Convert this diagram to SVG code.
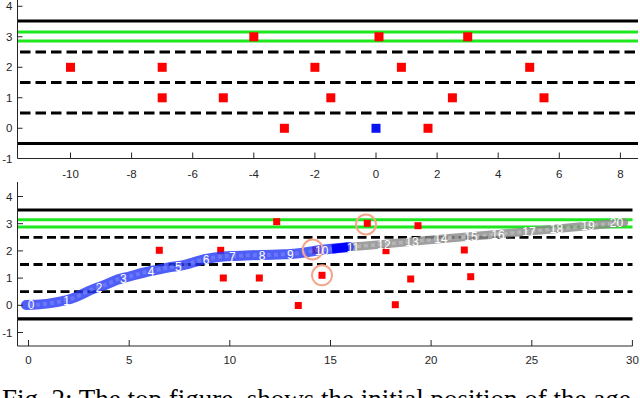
<svg xmlns="http://www.w3.org/2000/svg" width="640" height="398" viewBox="0 0 640 398">
<style>
.tick{font-family:"Liberation Sans",Arial,sans-serif;font-size:11.5px;fill:#262626}
.yl{text-anchor:end}
.xl{text-anchor:middle}
.ax{stroke:#262626;stroke-width:1;fill:none}
.solid{stroke:#000;stroke-width:3.2;fill:none}
.green{stroke:#1ee81e;stroke-width:3;fill:none}
.dashT{stroke:#000;stroke-width:3;fill:none;stroke-dasharray:10.5 5}
.dashB{stroke:#000;stroke-width:2.8;fill:none;stroke-dasharray:9 4.5}
.sq{fill:#ff0000}
.lbl{font-family:"Liberation Sans",Arial,sans-serif;font-size:12px;fill:#ffffff;text-anchor:middle;dominant-baseline:central}
.ring{fill:none;stroke:#f5a68a;stroke-width:2}
.cap{font-family:"Liberation Serif","Times New Roman",serif;font-size:27px;fill:#000}
</style>

<!-- TOP PLOT -->
<g id="top-plot">
  <g id="top-lanes">
    <line class="solid" x1="18" y1="21" x2="638" y2="21"/>
    <line class="green" x1="18" y1="32" x2="638" y2="32"/>
    <line class="green" x1="18" y1="41" x2="638" y2="41"/>
    <line class="dashT" x1="20" y1="52" x2="638" y2="52"/>
    <line class="dashT" x1="20" y1="82.5" x2="638" y2="82.5"/>
    <line class="dashT" x1="20" y1="113" x2="638" y2="113"/>
    <line class="solid" x1="18" y1="143.5" x2="638" y2="143.5"/>
  </g>
  <g id="top-obstacles">
    <rect class="sq" x="249.3" y="32.3" width="9" height="9"/>
    <rect class="sq" x="374.5" y="32.3" width="9" height="9"/>
    <rect class="sq" x="463.2" y="32.3" width="9" height="9"/>
    <rect class="sq" x="66" y="62.8" width="9" height="9"/>
    <rect class="sq" x="157.7" y="62.8" width="9" height="9"/>
    <rect class="sq" x="310.4" y="62.8" width="9" height="9"/>
    <rect class="sq" x="396.9" y="62.8" width="9" height="9"/>
    <rect class="sq" x="525.2" y="62.8" width="9" height="9"/>
    <rect class="sq" x="157.7" y="93.3" width="9" height="9"/>
    <rect class="sq" x="218.8" y="93.3" width="9" height="9"/>
    <rect class="sq" x="326.3" y="93.3" width="9" height="9"/>
    <rect class="sq" x="447.9" y="93.3" width="9" height="9"/>
    <rect class="sq" x="539.5" y="93.3" width="9" height="9"/>
    <rect class="sq" x="279.9" y="123.8" width="9" height="9"/>
    <rect class="sq" x="423.5" y="123.8" width="9" height="9"/>
  </g>
  <g id="top-ego">
    <rect x="371.5" y="123.8" width="9" height="9" fill="#0a14f0"/>
  </g>
  <g id="top-axes">
    <path class="ax" d="M17.5,0 V158.5 H638"/>
    <path class="ax" d="M17.5,6.25 h5 M17.5,36.75 h5 M17.5,67.25 h5 M17.5,97.75 h5 M17.5,128.25 h5 M70.5,158.5 v-6 M131.6,158.5 v-6 M192.7,158.5 v-6 M253.8,158.5 v-6 M314.9,158.5 v-6 M376,158.5 v-6 M437.1,158.5 v-6 M498.2,158.5 v-6 M559.3,158.5 v-6 M620.4,158.5 v-6"/>
    <text class="tick yl" x="12.5" y="10.4">4</text>
    <text class="tick yl" x="12.5" y="40.9">3</text>
    <text class="tick yl" x="12.5" y="71.4">2</text>
    <text class="tick yl" x="12.5" y="101.9">1</text>
    <text class="tick yl" x="12.5" y="132.4">0</text>
    <text class="tick yl" x="12.5" y="162.9">-1</text>
    <text class="tick xl" x="70.5" y="178">-10</text>
    <text class="tick xl" x="131.6" y="178">-8</text>
    <text class="tick xl" x="192.7" y="178">-6</text>
    <text class="tick xl" x="253.8" y="178">-4</text>
    <text class="tick xl" x="314.9" y="178">-2</text>
    <text class="tick xl" x="376" y="178">0</text>
    <text class="tick xl" x="437.1" y="178">2</text>
    <text class="tick xl" x="498.2" y="178">4</text>
    <text class="tick xl" x="559.3" y="178">6</text>
    <text class="tick xl" x="620.4" y="178">8</text>
  </g>
</g>

<!-- BOTTOM PLOT -->
<g id="bottom-plot">
  <g id="bottom-lanes">
    <line class="solid" x1="18" y1="210" x2="632.5" y2="210"/>
    <line class="green" x1="18" y1="219.7" x2="632.5" y2="219.7"/>
    <line class="green" x1="18" y1="227" x2="632.5" y2="227"/>
    <line class="dashB" x1="20" y1="237.3" x2="632.5" y2="237.3"/>
    <line class="dashB" x1="20" y1="264.5" x2="632.5" y2="264.5"/>
    <line class="dashB" x1="20" y1="291.7" x2="632.5" y2="291.7"/>
    <line class="solid" x1="18" y1="318.9" x2="632.5" y2="318.9"/>
  </g>
  <g id="bottom-obstacles">
    <rect class="sq" x="273.2" y="218.2" width="7" height="7"/>
    <rect class="sq" x="155.8" y="246.8" width="7" height="7"/>
    <rect class="sq" x="217.2" y="246.8" width="7" height="7"/>
    <rect class="sq" x="219.8" y="274.5" width="7" height="7"/>
    <rect class="sq" x="255.8" y="274.5" width="7" height="7"/>
    <rect class="sq" x="294.8" y="302" width="7" height="7"/>
    <rect class="sq" x="312.2" y="246.8" width="7" height="7"/>
    <rect class="sq" x="318.5" y="271.8" width="7" height="7"/>
    <rect class="sq" x="363.8" y="219.8" width="7" height="7"/>
    <rect class="sq" x="414.5" y="222.2" width="7" height="7"/>
    <rect class="sq" x="382.5" y="247.2" width="7" height="7"/>
    <rect class="sq" x="460.8" y="246.5" width="7" height="7"/>
    <rect class="sq" x="407.2" y="275.5" width="7" height="7"/>
    <rect class="sq" x="467.2" y="273.2" width="7" height="7"/>
    <rect class="sq" x="391.8" y="301.2" width="7" height="7"/>
  </g>
  <g id="trajectory">
    <path d="M345,247.5 L380,244.5 L440,239 L500,234 L560,228.5 L624,222.5" fill="none" stroke="#8a8a8a" stroke-opacity="0.82" stroke-width="8.5" stroke-linecap="round"/>
    <path d="M350,247 L380,244.5 L440,239 L500,234 L560,228.5 L622,222.7" fill="none" stroke="#d8d8d8" stroke-opacity="0.4" stroke-width="3.5" stroke-dasharray="4 3"/>
    <path d="M26,305 C40,305 55,303 67,300 S88,290 99,287 S113,280 123,278 S140,273 151,271 S168,267 178,266 S195,261 206,259 S222,256 232,256 S250,255 262,255 S280,254.5 290,254 S310,251.5 321,250 S340,248 349,247" fill="none" stroke="#2336f5" stroke-opacity="0.8" stroke-width="10" stroke-linecap="round"/>
    <path d="M29,305 C40,305 55,303 67,300 S88,290 99,287 S113,280 123,278 S140,273 151,271 S168,267 178,266 S195,261 206,259 S222,256 232,256 S250,255 262,255 S280,254.5 290,254 S310,251.5 321,250 S340,248 347,247" fill="none" stroke="#9aa6ff" stroke-opacity="0.35" stroke-width="4" stroke-dasharray="4 3"/>
    <path d="M332,249 L348,247" fill="none" stroke="#0000ff" stroke-width="9"/>
  </g>
  <g id="highlights">
    <circle class="ring" cx="312.7" cy="249.5" r="10"/>
    <circle class="ring" cx="322" cy="275.3" r="10"/>
    <circle class="ring" cx="366" cy="224.5" r="10"/>
  </g>
  <g id="step-labels">
    <text class="lbl" x="31" y="305">0</text>
    <text class="lbl" x="66.7" y="300.7">1</text>
    <text class="lbl" x="99" y="288.3">2</text>
    <text class="lbl" x="123.3" y="279">3</text>
    <text class="lbl" x="151" y="272.3">4</text>
    <text class="lbl" x="178.3" y="267.3">5</text>
    <text class="lbl" x="206" y="260.3">6</text>
    <text class="lbl" x="232.3" y="256.7">7</text>
    <text class="lbl" x="262" y="256">8</text>
    <text class="lbl" x="290.3" y="255.3">9</text>
    <text class="lbl" x="321.7" y="251">10</text>
    <text class="lbl" x="353" y="247.5">11</text>
    <text class="lbl" x="384" y="244.5">12</text>
    <text class="lbl" x="412" y="241.5">13</text>
    <text class="lbl" x="441" y="239">14</text>
    <text class="lbl" x="471" y="236.5">15</text>
    <text class="lbl" x="498" y="234.5">16</text>
    <text class="lbl" x="529" y="231.5">17</text>
    <text class="lbl" x="556.5" y="228.5">18</text>
    <text class="lbl" x="588" y="225.7">19</text>
    <text class="lbl" x="616.5" y="223">20</text>
  </g>
  <g id="bottom-axes">
    <path class="ax" d="M17.5,182 V346 H632.5"/>
    <path class="ax" d="M17.5,196.5 h5.5 M17.5,223.7 h5.5 M17.5,250.9 h5.5 M17.5,278.1 h5.5 M17.5,305.3 h5.5 M17.5,332.5 h5.5 M28.5,346 v-6 M129.2,346 v-6 M229.8,346 v-6 M330.5,346 v-6 M431.1,346 v-6 M531.8,346 v-6 M632.4,346 v-6"/>
    <text class="tick yl" x="12.5" y="200.6">4</text>
    <text class="tick yl" x="12.5" y="227.8">3</text>
    <text class="tick yl" x="12.5" y="255">2</text>
    <text class="tick yl" x="12.5" y="282.2">1</text>
    <text class="tick yl" x="12.5" y="309.4">0</text>
    <text class="tick yl" x="12.5" y="336.6">-1</text>
    <text class="tick xl" x="28.5" y="364.2">0</text>
    <text class="tick xl" x="129.2" y="364.2">5</text>
    <text class="tick xl" x="229.8" y="364.2">10</text>
    <text class="tick xl" x="330.5" y="364.2">15</text>
    <text class="tick xl" x="431.1" y="364.2">20</text>
    <text class="tick xl" x="531.8" y="364.2">25</text>
    <text class="tick xl" x="632.4" y="364.2">30</text>
  </g>
</g>

<text class="cap" x="2" y="408">Fig. 2: The top figure, shows the initial position of the age</text>
</svg>
